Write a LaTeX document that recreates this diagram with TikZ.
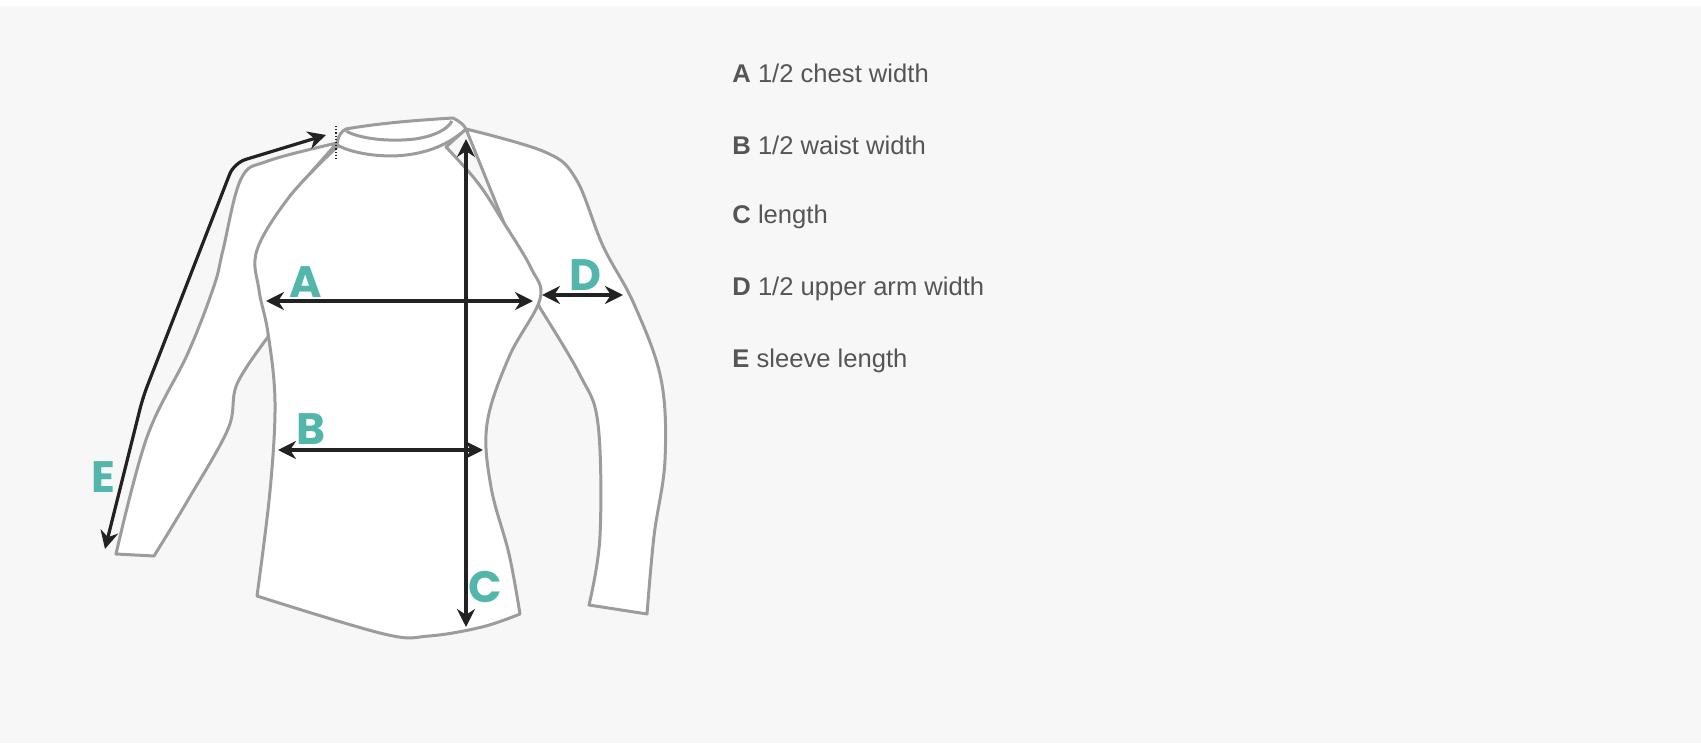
\documentclass[tikz,border=0pt]{standalone}
\usepackage{fontspec}
\setmainfont{Liberation Sans}
\newfontfamily\labfont{Poppins}
\definecolor{bg}{HTML}{F7F7F7}
\definecolor{shirt}{HTML}{9C9C9C}
\definecolor{teal}{HTML}{52B6AB}
\definecolor{ink}{HTML}{222222}
\definecolor{txt}{HTML}{555555}
\tikzset{
 outline/.style={draw=shirt,line width=1.5pt,fill=white,line join=round},
 seam/.style={draw=shirt,line width=1.5pt},
 meas/.style={draw=ink,line width=1.6pt,{Stealth[length=9pt,width=9pt]}-{Stealth[length=9pt,width=9pt]}},
 lab/.style={text=teal,font=\labfont\bfseries\fontsize{22}{22}\selectfont,inner sep=0pt},
 leg/.style={text=txt,font=\fontsize{12.8}{14}\selectfont,anchor=west,inner sep=0pt}
}
\usetikzlibrary{arrows.meta}
\begin{document}
\begin{tikzpicture}[x=0.5pt,y=-0.5pt]
\useasboundingbox (0,0) rectangle (1701,748);
\fill[white] (0,0) rectangle (1701,748);
\fill[bg] (0,6) rectangle (1701,743);
% left sleeve
\path[outline] plot[smooth,tension=0.6] coordinates{(337,143)(268,161)(241,179)(223,250)(214,286)(188,353)(147,437)(116,554)}
 -- (154,556) -- plot[smooth,tension=0.6] coordinates{(154,556)(188,500)(228,429)(237,384)(268,337)} -- (290,196) -- cycle;
% right sleeve
\path[outline] plot[smooth,tension=0.6] coordinates{(466,129)(545,152)(576,179)(603,246)(634,304)(661,379)(665,460)(654,536)(647,614)}
 -- (589,605) -- plot[smooth,tension=0.6] coordinates{(589,605)(600,536)(598,424)(580,375)(540,308)} -- (504,223) -- cycle;
% body
\path[outline] plot[smooth,tension=0.6] coordinates{(337,147)(290,196)(257,250)(259,290)(268,333)(275,402)(270,491)(257,596)}
 -- plot[smooth,tension=0.6] coordinates{(257,596)(384,634)(429,636)(482,627)(520,614)}
 -- plot[smooth,tension=0.6] coordinates{(520,614)(509,554)(491,487)(487,424)(509,357)(540,299)(531,268)(504,223)(478,183)(446,147)}
 -- (466,129) -- (337,143) -- cycle;
% collar
\path[outline] (337,145) .. controls (338,135) and (342,131) .. (346,129)
 .. controls (380,123) and (420,120) .. (453,118)
 .. controls (459,121) and (464,125) .. (466,129)
 .. controls (445,148) and (420,155) .. (393,156)
 .. controls (370,156) and (350,152) .. (337,145) -- cycle;
\draw[seam] (346,131) .. controls (360,139) and (390,142) .. (415,139)
 .. controls (435,136) and (448,129) .. (452,121);
% measurements
\coordinate (a1) at (266,301); \coordinate (a2) at (533,301);
\coordinate (b1) at (278,450); \coordinate (b2) at (483,450);
\coordinate (c1) at (466,139); \coordinate (c2) at (466,627);
\coordinate (d1) at (542,295); \coordinate (d2) at (623,295);
\coordinate (e1) at (326,135); \coordinate (e2) at (105,549);
\draw[meas] (a1) -- (a2);
\draw[meas] (b1) -- (b2);
\draw[meas] (c1) -- (c2);
\draw[meas] (d1) -- (d2);
\draw[meas,rounded corners=6pt] (e2) -- (143,397) -- (234,163) -- (e1);
\draw[ink,densely dotted,line width=0.6pt] (336,126) -- (336,159);
\node[lab] (la) at (306,282) {A};
\node[lab] (lb) at (311,429) {B};
\node[lab] (lc) at (485,587) {C};
\node[lab] (ld) at (585,275) {D};
\node[lab] (le) at (103,477) {E};
% legend
\node[leg] (ta) at (732,73) {\textbf{A} 1/2 chest width};
\node[leg] (tb) at (732,145) {\textbf{B} 1/2 waist width};
\node[leg] (tc) at (732,217) {\textbf{C} length};
\node[leg] (td) at (732,289) {\textbf{D} 1/2 upper arm width};
\node[leg] (te) at (732,361) {\textbf{E} sleeve length};
\end{tikzpicture}
\end{document}
